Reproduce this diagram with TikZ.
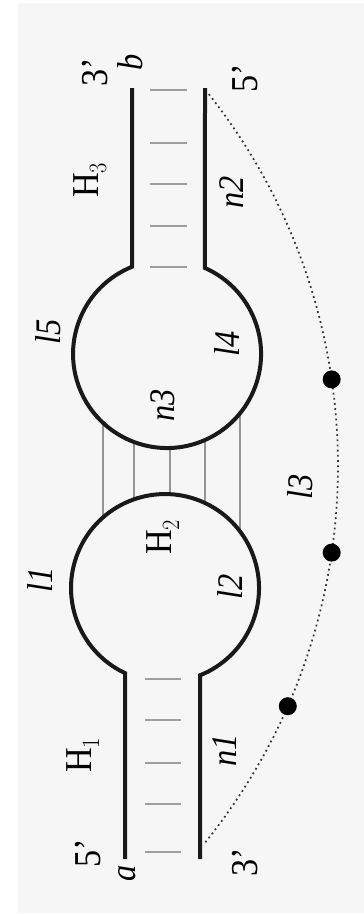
\documentclass[tikz,border=0pt]{standalone}
\usepackage{fontspec}
\setmainfont{Liberation Serif}
\usepackage{graphicx}
\usetikzlibrary{calc}
\begin{document}
\begin{tikzpicture}[x=1pt,y=-1pt,
  strand/.style={line width=4pt, black!90, line join=miter},
  bpline/.style={line width=2.6pt, black!38},
  kiss/.style={line width=1.3pt, black!42},
  linker/.style={line width=1.7pt, black!80, dash pattern=on 1.8pt off 3.4pt},
  bead/.style={circle, fill=black, inner sep=0pt, minimum size=18pt},
  lab/.style={rotate=90, inner sep=0pt, font=\fontsize{36}{40}\selectfont\itshape},
  hlab/.style={rotate=90, inner sep=0pt, font=\fontsize{38}{42}\selectfont}]
\useasboundingbox (0,0) rectangle (364,914);
\fill[black!3.5] (18,3) rectangle (364,913);

% strand end points
\coordinate (tb) at (132,88);   % 3' b
\coordinate (t5) at (205,88);   % 5' top right
\coordinate (ba) at (125,859);  % 5' a
\coordinate (b3) at (200,859);  % 3' bottom right
\coordinate (arcc) at (-262,466);

% base pairs, stem H3
\foreach \y in {90,143,184,226,267} \draw[bpline] (150,\y) -- (187,\y);
% base pairs, stem H1
\foreach \y in {679,720,763,804,852} \draw[bpline] (145,\y) -- (181,\y);

% kissing-loop pairs H2
\draw[kiss] (103,422.8) -- (103,517.3);
\draw[kiss] (134,442) -- (134,499.3);
\draw[kiss] (170,448) -- (170,494.1);
\draw[kiss] (205,440) -- (205,502.9);
\draw[kiss] (240,413.2) -- (240,531.3);

% upper strand: 3' b -> loop -> 5'
\draw[strand] (tb) -- (132,266.8) arc[start angle=248.1, end angle=-66.2, radius=94] -- (t5);
% lower strand: 5' a -> loop -> 3'
\draw[strand] (ba) -- (125,673.1) arc[start angle=115.2, end angle=428.1, radius=94] -- (b3);

% linker l3
\draw[linker] ($(arcc)+(-38.3:600)$) arc[start angle=-38.3, end angle=39.1, radius=600];
\node[bead] (d1) at ($(arcc)+(-8.3:600)$) {};
\node[bead] (d2) at ($(arcc)+(8.3:600)$) {};
\node[bead] (d3) at ($(arcc)+(23.6:600)$) {};

% labels
\node[hlab] (l3p) at (95,72) {\scalebox{0.9}[1]{3'}};
\node[lab]  (lb)  at (130,62) {\scalebox{0.9}[1]{b}};
\node[hlab] (l5p) at (245,78) {\scalebox{0.9}[1]{5'}};
\node[hlab] (lH3) at (90,180) {\scalebox{0.9}[1]{H$_3$}};
\node[lab]  (ln2) at (232,192) {\scalebox{0.9}[1]{n2}};
\node[lab]  (ll5) at (48,332) {\scalebox{0.9}[1]{l5}};
\node[lab]  (ll4) at (227,344) {\scalebox{0.9}[1]{l4}};
\node[lab]  (ln3) at (163,405) {\scalebox{0.9}[1]{n3}};
\node[hlab] (lH2) at (163,537) {\scalebox{0.9}[1]{H$_2$}};
\node[lab]  (ll3) at (300,487) {\scalebox{0.9}[1]{l3}};
\node[lab]  (ll1) at (40,580) {\scalebox{0.9}[1]{l1}};
\node[lab]  (ll2) at (230,587) {\scalebox{0.9}[1]{l2}};
\node[hlab] (lH1) at (83,755) {\scalebox{0.9}[1]{H$_1$}};
\node[lab]  (ln1) at (225,750) {\scalebox{0.9}[1]{n1}};
\node[hlab] (l5a) at (88,853) {\scalebox{0.9}[1]{5'}};
\node[lab]  (la)  at (127,873) {\scalebox{0.9}[1]{a}};
\node[hlab] (l3b) at (245,862) {\scalebox{0.9}[1]{3'}};
\end{tikzpicture}
\end{document}
